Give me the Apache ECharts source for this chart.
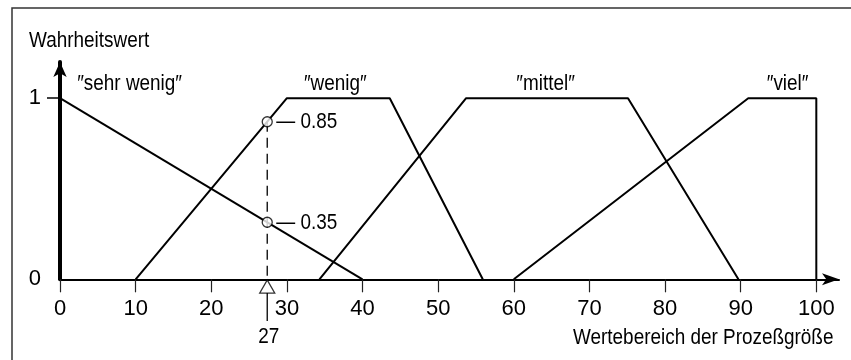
<!DOCTYPE html>
<html>
<head>
<meta charset="utf-8">
<script src="https://cdn.jsdelivr.net/npm/echarts@6/dist/echarts.min.js"></script>
<style>
html,body{margin:0;padding:0;background:#fff;}
#c{width:851px;height:360px;}
</style>
</head>
<body>
<div id="c"></div>
<script>
// ---- data ----
const xTicks = [0, 10, 20, 30, 40, 50, 60, 70, 80, 90, 100];
const yTickLabels = [0, 1];
const setNames = ['\u2033sehr wenig\u2033', '\u2033wenig\u2033', '\u2033mittel\u2033', '\u2033viel\u2033'];
const sehrWenig = [[0, 1], [40, 0]];
const wenig = [[10, 0], [30, 1], [43.6, 1], [55.9, 0]];
const mittel = [[34.3, 0], [53.7, 1], [75.1, 1], [89.7, 0]];
const viel = [[60, 0], [91, 1], [100, 1], [100, 0]];
const inputX = 27.4;          // drawn position of the input value
const inputLabel = '27';
const memberships = [0.87, 0.315];   // drawn heights of the circles
const membershipLabels = ['0.85', '0.35'];
const yTitle = 'Wahrheitswert';
const xTitle = 'Wertebereich der Prozeßgröße';

// ---- chart ----
const FONT = '"Liberation Sans", Arial, sans-serif';
const FS = 22;
const SX = 0.86;
const chart = echarts.init(document.getElementById('c'), null, {renderer: 'canvas'});
const lineStyle = {color: '#000', width: 2};

// label anchors (in data units) for the set names
const setLabelAnchors = [[9.2, 1.078], [36.4, 1.078], [64.2, 1.078], [96.2, 1.078]];

const series = [];
[sehrWenig, wenig, mittel, viel].forEach(function (d) {
  series.push({type: 'line', data: d, symbol: 'none', lineStyle: lineStyle, clip: false, silent: true, z: 3});
});
// dashed vertical line
series.push({
  type: 'line', symbol: 'none', clip: false, silent: true, z: 2,
  data: [[inputX, memberships[0]], [inputX, 0]],
  lineStyle: {color: '#000', width: 1.3, type: [10, 6]}
});
// stem below axis
series.push({
  type: 'line', symbol: 'none', clip: false, silent: true,
  data: [[inputX, -0.076], [inputX, -0.23]],
  lineStyle: {color: '#000', width: 1.3}
});
// triangle marker
series.push({
  type: 'scatter', clip: false, silent: true, z: 5,
  symbol: 'triangle', symbolSize: [15, 13],
  itemStyle: {color: '#fff', borderColor: '#000', borderWidth: 1.3},
  data: [[inputX, -0.04]]
});
// membership circles
series.push({
  type: 'scatter', clip: false, silent: true, z: 6,
  symbol: 'circle', symbolSize: 10,
  itemStyle: {color: '#fff', borderColor: '#000', borderWidth: 1.3},
  data: memberships.map(function (m) { return [inputX, m]; })
});

chart.setOption({
  animation: false,
  backgroundColor: '#fff',
  grid: {left: 60, right: 12, top: 62, bottom: 80.7, containLabel: false},
  xAxis: {
    type: 'value', min: 0, max: 103, interval: 10,
    splitLine: {show: false},
    axisLine: {show: true, lineStyle: {color: '#000', width: 2}, symbol: ['none', 'arrow'], symbolSize: [9, 17], symbolOffset: [0, 0]},
    axisTick: {show: true, inside: false, length: 13, customValues: xTicks, lineStyle: {color: '#222', width: 1.2}},
    axisLabel: {show: true, customValues: xTicks, margin: 19, fontFamily: FONT, fontSize: FS, color: '#000'}
  },
  yAxis: {
    type: 'value', min: 0, max: 1.2, interval: 1,
    splitLine: {show: false},
    axisLine: {show: true, onZero: false, lineStyle: {color: '#000', width: 4}, symbol: ['none', 'arrow'], symbolSize: [10, 15]},
    axisTick: {show: true, length: 13, customValues: [1], lineStyle: {color: '#000', width: 1.5}},
    axisLabel: {show: true, customValues: yTickLabels, margin: 19, fontFamily: FONT, fontSize: FS, color: '#000'}
  },
  series: series
});

// texts (condensed), placed through the chart's own coordinate conversion
function px(v) { return chart.convertToPixel({gridIndex: 0}, v); }
function txt(x, y, text, align) {
  return {type: 'text', silent: true, x: x, y: y, scaleX: SX, z: 10,
    style: {text: text, fontFamily: FONT, fontSize: FS, fill: '#000',
      textAlign: align || 'left', textVerticalAlign: 'middle'}};
}
const g = [
  {type: 'rect', silent: true, z: -1, shape: {x: 12, y: 8, width: 900, height: 400},
   style: {fill: 'none', stroke: '#333', lineWidth: 1.5}},
  txt(29, 41, yTitle),
  txt(573, 338, xTitle)
];
setNames.forEach(function (n, i) {
  const p = px(setLabelAnchors[i]);
  g.push(txt(p[0], p[1], n, 'center'));
});
memberships.forEach(function (m, i) {
  const p = px([inputX, m]);
  g.push(txt(p[0] + 9, p[1] + 0.5, '\u2014 ' + membershipLabels[i]));
});
const pl = px([inputX, -0.23]);
g.push(txt(pl[0] + 1.5, pl[1] + 16, inputLabel, 'center'));
chart.setOption({graphic: g});
</script>
</body>
</html>
